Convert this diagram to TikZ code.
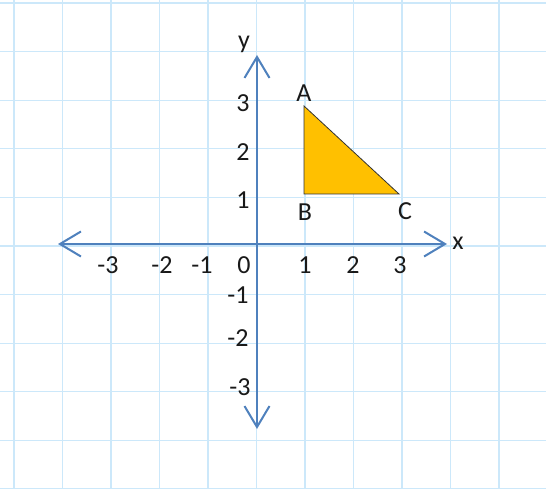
\documentclass[tikz,border=0pt]{standalone}
\usepackage{fontspec}
\setmainfont{Carlito}
\usetikzlibrary{arrows.meta}
\definecolor{gridblue}{RGB}{204,232,250}
\definecolor{axisblue}{RGB}{79,129,189}
\definecolor{trifill}{RGB}{255,192,0}
\tikzset{
  gridline/.style={draw=gridblue,line width=1.3pt},
  axisline/.style={draw=axisblue,line width=2pt,-{Straight Barb[length=21pt,width=25pt,line width=2pt]}},
  lbl/.style={inner sep=0pt,font=\fontsize{26}{26}\selectfont,text=black!90},
  tri/.style={fill=trifill,draw=black!80,line width=0.8pt}
}
\begin{document}
\begin{tikzpicture}[x=1pt,y=-1pt]
\useasboundingbox (0,0) rectangle (546,489);
\fill[white] (0,0) rectangle (546,489);
% grid
\foreach \i in {0,...,11} {
  \draw[gridline] ({14+48.5*\i},0) -- ({14+48.5*\i},489);
}
\foreach \j in {0,...,10} {
  \draw[gridline] (0,{3+48.6*\j}) -- (546,{3+48.6*\j});
}
% axes
\coordinate (o) at (257,244);
\coordinate (xl) at (58,244);
\coordinate (xr) at (447,244);
\coordinate (yt) at (257,55);
\coordinate (yb) at (257,429);
\draw[axisline] (o) -- (xr);
\draw[axisline] (o) -- (xl);
\draw[axisline] (o) -- (yt);
\draw[axisline] (o) -- (yb);
% triangle
\coordinate (A) at (304,106);
\coordinate (B) at (304,194);
\coordinate (C) at (399,194);
\draw[tri] (A) -- (B) -- (C) -- cycle;
% labels
\node[lbl] (lx) at (458,243) {x};
\node[lbl] (ly) at (244,44) {y};
\node[lbl] (la) at (304,93) {A};
\node[lbl] (lb) at (305,212) {B};
\node[lbl] (lc) at (405,211) {C};
\node[lbl] (xm3) at (108,265) {-3};
\node[lbl] (xm2) at (162,265) {-2};
\node[lbl] (xm1) at (202,265) {-1};
\node[lbl] (x0) at (244,265) {0};
\node[lbl] (x1) at (305,265) {1};
\node[lbl] (x2) at (353,265) {2};
\node[lbl] (x3) at (400,265) {3};
\node[lbl] (y3) at (243,103) {3};
\node[lbl] (y2) at (243,152) {2};
\node[lbl] (y1) at (243,200) {1};
\node[lbl] (ym1) at (238,295) {-1};
\node[lbl] (ym2) at (238,338) {-2};
\node[lbl] (ym3) at (240,387) {-3};
\end{tikzpicture}
\end{document}
